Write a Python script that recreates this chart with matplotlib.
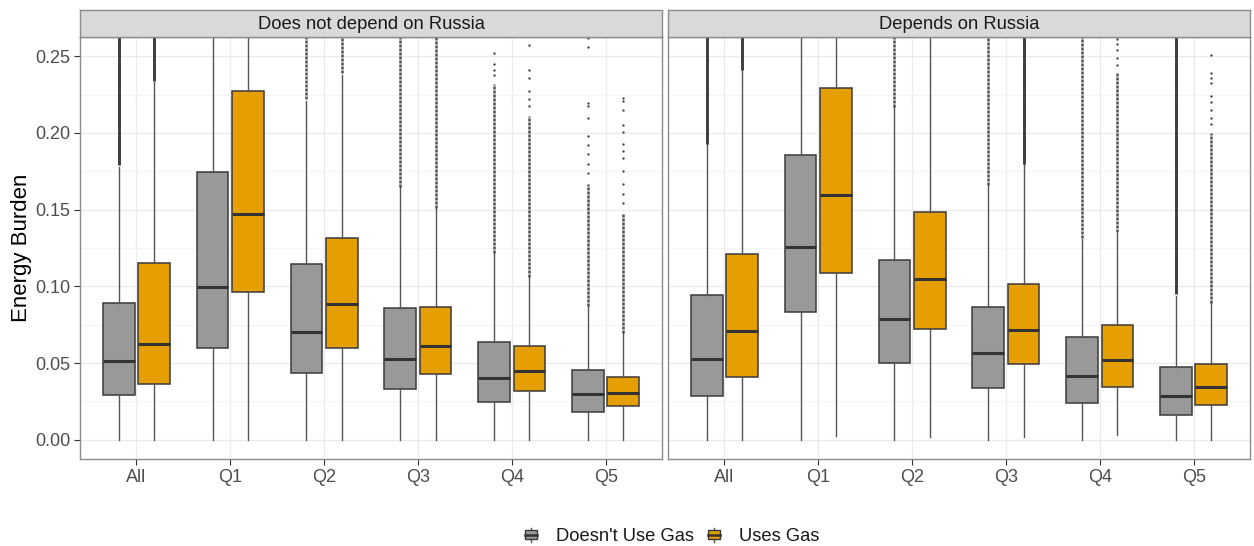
import matplotlib
matplotlib.use('Agg')
import matplotlib.pyplot as plt
from matplotlib.legend_handler import HandlerBase
from matplotlib.patches import Rectangle, Patch
from matplotlib.lines import Line2D
import numpy as np

plt.rcParams['font.family'] = ['Liberation Sans', 'DejaVu Sans']

groups = ['All', 'Q1', 'Q2', 'Q3', 'Q4', 'Q5']
panels = ['Does not depend on Russia', 'Depends on Russia']
series = ["Doesn't Use Gas", 'Uses Gas']

# box stats per group: whisker low, Q1, median, Q3, whisker high
notdep_nogas = [(0.0, 0.0295, 0.0514, 0.0893, 0.178),
                (0.0, 0.0601, 0.0998, 0.1747, 0.35),
                (0.0, 0.0436, 0.0703, 0.1144, 0.221),
                (0.0, 0.0334, 0.0529, 0.0857, 0.165),
                (0.0, 0.0245, 0.0404, 0.0636, 0.122),
                (0.0, 0.0182, 0.0301, 0.0456, 0.087)]
notdep_gas = [(0.0, 0.0367, 0.0625, 0.1152, 0.233),
              (0.0, 0.0961, 0.1470, 0.2276, 0.35),
              (0.0, 0.0601, 0.0888, 0.1315, 0.238),
              (0.0, 0.0432, 0.0612, 0.0864, 0.151),
              (0.0, 0.0317, 0.0451, 0.0612, 0.106),
              (0.0, 0.0219, 0.0306, 0.0410, 0.070)]
dep_nogas = [(0.0, 0.0286, 0.0527, 0.0944, 0.193),
             (0.0, 0.0831, 0.1254, 0.1853, 0.35),
             (0.0, 0.0503, 0.0786, 0.1172, 0.217),
             (0.0, 0.0336, 0.0569, 0.0864, 0.166),
             (0.0, 0.0243, 0.0417, 0.0671, 0.131),
             (0.0, 0.0163, 0.0284, 0.0475, 0.094)]
dep_gas = [(0.0, 0.0408, 0.0712, 0.1209, 0.241),
           (0.0026, 0.1085, 0.1595, 0.2294, 0.35),
           (0.0018, 0.0725, 0.1046, 0.1482, 0.262),
           (0.0020, 0.0493, 0.0714, 0.1016, 0.180),
           (0.0033, 0.0343, 0.0519, 0.0747, 0.135),
           (0.0, 0.0230, 0.0347, 0.0495, 0.089)]

# dense runs of outliers (from, to); None where there are none in view
notdep_nogas_run = [(0.179, 0.27), None, (0.222, 0.27), (0.165, 0.27), (0.1215, 0.232), (0.0872, 0.1665)]
notdep_gas_run = [(0.234, 0.27), None, (0.239, 0.27), (0.151, 0.27), (0.106, 0.211), (0.0699, 0.148)]
dep_nogas_run = [(0.193, 0.27), None, (0.217, 0.27), (0.166, 0.27), (0.1317, 0.27), (0.0949, 0.27)]
dep_gas_run = [(0.241, 0.27), None, None, (0.180, 0.27), (0.1356, 0.240), (0.0894, 0.200)]

# isolated outliers above the dense runs
notdep_nogas_pts = [[], [], [], [], [0.238, 0.241, 0.245, 0.252],
                    [0.174, 0.180, 0.186, 0.192, 0.198, 0.2094, 0.2174, 0.2196, 0.256, 0.262]]
notdep_gas_pts = [[], [], [], [], [0.2174, 0.2218, 0.2272, 0.2359, 0.2407, 0.257],
                  [0.154, 0.160, 0.1667, 0.1751, 0.1836, 0.188, 0.1927, 0.2007, 0.2049, 0.2148, 0.2207, 0.2229]]
dep_nogas_pts = [[], [], [], [], [], []]
dep_gas_pts = [[], [], [], [], [0.244, 0.249, 0.254, 0.258, 0.261],
               [0.2057, 0.210, 0.215, 0.220, 0.224, 0.2326, 0.236, 0.2391, 0.2507]]

colors = ['#999999', '#E69F00']
W, H = 1254, 546


def draw_series(ax, stats, runs, pts, offset, color, heavy):
    pos = np.arange(1, len(groups) + 1) + offset
    bstats = [dict(whislo=s[0], q1=s[1], med=s[2], q3=s[3], whishi=s[4], fliers=[]) for s in stats]
    ax.bxp(bstats, positions=pos, widths=0.3375, patch_artist=True, showcaps=False,
           showfliers=False,
           boxprops=dict(facecolor=color, edgecolor='#3a3a3a', linewidth=1.1),
           medianprops=dict(color='#333333', linewidth=2.2),
           whiskerprops=dict(color='#555555', linewidth=1.0), zorder=3)
    for i, r in enumerate(runs):
        if r is None:
            continue
        if i in heavy:
            ax.vlines(pos[i], r[0], r[1], colors='#3d3d3d', lw=2.1, zorder=4)
        else:
            ax.vlines(pos[i], r[0], r[1], colors='#505050', lw=1.8,
                      linestyles=(0, (1.2, 0.4)), zorder=4)
    for i, p in enumerate(pts):
        if p:
            ax.plot([pos[i]] * len(p), p, 'o', ms=1.7, color='#444444', mec='none', zorder=4)


fig = plt.figure(figsize=(W / 100, H / 100), dpi=100)

panel_data = [
    [(notdep_nogas, notdep_nogas_run, notdep_nogas_pts, [0]),
     (notdep_gas, notdep_gas_run, notdep_gas_pts, [0])],
    [(dep_nogas, dep_nogas_run, dep_nogas_pts, [0, 5]),
     (dep_gas, dep_gas_run, dep_gas_pts, [0, 3])],
]
lefts = [80, 668]
for k, left in enumerate(lefts):
    ax = fig.add_axes([left / W, (H - 459) / H, 582 / W, 422 / H])
    ax.set_axisbelow(True)
    for j, (st, runs, pts, heavy) in enumerate(panel_data[k]):
        offset = -0.1875 if j == 0 else 0.1875
        draw_series(ax, st, runs, pts, offset, colors[j], heavy)
    ax.set_xlim(0.4, 6.6)
    ax.set_ylim(-0.0125, 0.2625)
    ax.set_yticks(np.arange(0, 0.26, 0.05))
    ax.set_yticks(np.arange(0.025, 0.26, 0.05), minor=True)
    ax.set_yticklabels(['%.2f' % v for v in np.arange(0, 0.26, 0.05)])
    ax.set_xticks(range(1, 7))
    ax.set_xticklabels(groups)
    ax.grid(which='major', color='#EBEBEB', lw=1.0)
    ax.grid(which='minor', axis='y', color='#F4F4F4', lw=0.8)
    ax.tick_params(which='major', length=4, color='#333333', labelcolor='#4D4D4D',
                   labelsize=13, pad=3)
    ax.tick_params(which='minor', length=0)
    if k == 1:
        ax.tick_params(axis='y', left=False, labelleft=False)
    for sp in ax.spines.values():
        sp.set_color('#8c8c8c')
        sp.set_linewidth(1.0)

    strip = fig.add_axes([left / W, (H - 37) / H, 582 / W, 27 / H])
    strip.set_facecolor('#D9D9D9')
    strip.set_xticks([])
    strip.set_yticks([])
    for sp in strip.spines.values():
        sp.set_color('#8c8c8c')
        sp.set_linewidth(1.0)
    strip.text(0.5, 0.48, panels[k], ha='center', va='center', fontsize=13.2,
               color='#1A1A1A', transform=strip.transAxes)

fig.text(22 / W, 1 - 248 / H, 'Energy Burden', rotation=90, ha='center', va='center',
         fontsize=16, color='black')


class BoxKey(HandlerBase):
    def create_artists(self, legend, orig_handle, xdescent, ydescent, width, height,
                       fontsize, trans):
        x0, y0 = -xdescent, -ydescent
        cx = x0 + width / 2
        bw = 0.68 * width
        whisk = Line2D([cx, cx], [y0 + 0.05 * height, y0 + 0.95 * height], color='#555555',
                       lw=1, transform=trans)
        box = Rectangle((cx - bw / 2, y0 + 0.22 * height), bw, 0.58 * height,
                        facecolor=orig_handle.get_facecolor(), edgecolor='#3a3a3a', lw=1,
                        transform=trans)
        med = Line2D([cx - bw / 2, cx + bw / 2], [y0 + 0.51 * height] * 2,
                     color='#333333', lw=1.8, transform=trans)
        return [whisk, box, med]


handles = [Patch(facecolor=c) for c in colors]
fig.legend(handles, series, loc='center', bbox_to_anchor=(671 / W, 1 - 536 / H), ncol=2,
           frameon=False, fontsize=13.2, handler_map={Patch: BoxKey()},
           handlelength=0.92, handleheight=0.92, columnspacing=0.65, handletextpad=0.9,
           labelcolor='#1A1A1A', borderpad=0)

fig.savefig('out.png', dpi=100)
